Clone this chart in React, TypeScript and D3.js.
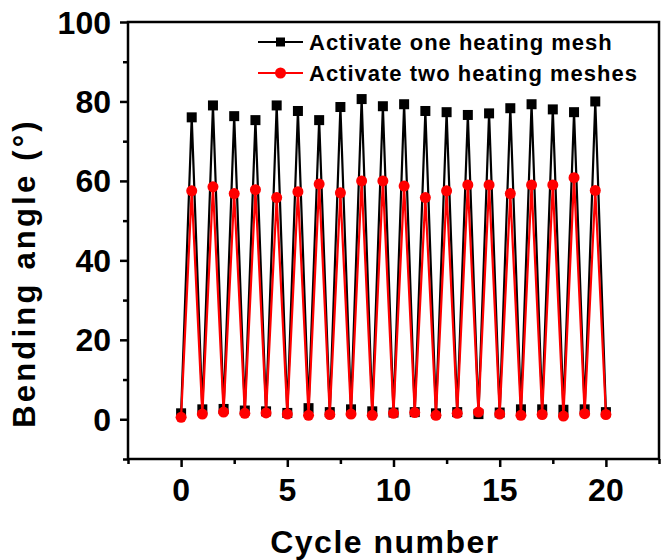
import React, { useEffect, useRef } from "react";
import * as d3 from "d3";

// x positions: valleys at whole cycles, peaks at half cycles
const cycleX = d3.range(0, 20.01, 0.5);

const oneMeshPeaks = [76, 79, 76.3, 75.3, 79, 77.6, 75.3, 78.6, 80.6, 78.8, 79.3, 77.6, 77.3, 76.6, 77, 78.3, 79.3, 78, 77.3, 80];
const oneMeshValleys = [1.5, 2.5, 2.6, 2.2, 2.0, 1.6, 2.8, 1.8, 2.5, 2.0, 1.7, 1.8, 1.5, 1.8, 1.3, 1.7, 2.5, 2.5, 2.4, 2.5, 1.8];

const twoMeshPeaks = [57.5, 58.5, 56.8, 57.8, 55.8, 57.3, 59.2, 57, 60, 60, 58.7, 55.8, 57.5, 59, 59, 56.8, 59, 59, 60.8, 57.6];
const twoMeshValleys = [0.5, 1.3, 1.8, 1.5, 1.6, 1.3, 1.0, 1.2, 1.3, 1.0, 1.5, 1.7, 1.0, 1.5, 1.8, 1.3, 1.0, 1.2, 0.8, 1.4, 1.2];

const xTicks = [0, 5, 10, 15, 20];
const yTicks = [0, 20, 40, 60, 80, 100];

function interleave(valleys: number[], peaks: number[]) {
  return cycleX.map((x, i) => ({
    x,
    y: i % 2 === 0 ? valleys[i / 2] : peaks[(i - 1) / 2],
  }));
}

export default function App() {
  const ref = useRef<SVGSVGElement>(null);

  useEffect(() => {
    const svg = d3.select(ref.current);
    svg.selectAll("*").remove();

    const left = 128, right = 659, top = 22, bottom = 459;
    const font = "'Liberation Sans', Arial, sans-serif";

    const x = d3.scaleLinear().domain([-2.5, 22.5]).range([left, right]);
    const y = d3.scaleLinear().domain([-10, 100]).range([bottom, top]);

    // frame
    svg.append("rect")
      .attr("x", left).attr("y", top)
      .attr("width", right - left).attr("height", bottom - top)
      .attr("fill", "none").attr("stroke", "#000").attr("stroke-width", 2.5);

    // x axis
    const xAxis = svg.append("g")
      .attr("transform", `translate(0,${bottom})`)
      .call(d3.axisBottom(x).tickValues(d3.range(-2.5, 22.6, 2.5)).tickSize(6).tickFormat(() => ""));
    xAxis.select(".domain").remove();
    xAxis.selectAll("line").attr("stroke-width", 2.5).attr("y2", (d: any) => (xTicks.includes(d) ? 8 : 5));

    svg.append("g").selectAll("text").data(xTicks).join("text")
      .attr("x", (d) => x(d)).attr("y", 501)
      .attr("text-anchor", "middle")
      .attr("font-family", font).attr("font-weight", "bold").attr("font-size", 32)
      .text((d) => d);

    // y axis
    const yAxis = svg.append("g")
      .attr("transform", `translate(${left},0)`)
      .call(d3.axisLeft(y).tickValues(d3.range(-10, 100.1, 10)).tickSize(6).tickFormat(() => ""));
    yAxis.select(".domain").remove();
    yAxis.selectAll("line").attr("stroke-width", 2.5).attr("x2", (d: any) => (yTicks.includes(d) ? -8 : -5));

    svg.append("g").selectAll("text").data(yTicks).join("text")
      .attr("x", 111).attr("y", (d) => y(d) + 11.5)
      .attr("text-anchor", "end")
      .attr("font-family", font).attr("font-weight", "bold").attr("font-size", 32)
      .text((d) => d);

    // axis titles
    svg.append("text")
      .attr("x", 385).attr("y", 553)
      .attr("text-anchor", "middle")
      .attr("font-family", font).attr("font-weight", "bold").attr("font-size", 32)
      .attr("letter-spacing", 1.5)
      .text("Cycle number");

    svg.append("text")
      .attr("transform", `translate(35,273) rotate(-90)`)
      .attr("text-anchor", "middle")
      .attr("font-family", font).attr("font-weight", "bold").attr("font-size", 31)
      .attr("letter-spacing", 3.2)
      .text("Bending angle (°)");

    const line = d3.line<{ x: number; y: number }>().x((d) => x(d.x)).y((d) => y(d.y));

    const series = [
      { name: "Activate one heating mesh", color: "#000", shape: "square", data: interleave(oneMeshValleys, oneMeshPeaks) },
      { name: "Activate two heating meshes", color: "#ff0000", shape: "circle", data: interleave(twoMeshValleys, twoMeshPeaks) },
    ];

    series.forEach((s) => {
      const g = svg.append("g");
      g.append("path").datum(s.data)
        .attr("d", line).attr("fill", "none")
        .attr("stroke", s.color).attr("stroke-width", 2.2);
      if (s.shape === "square") {
        g.selectAll("rect").data(s.data).join("rect")
          .attr("x", (d) => x(d.x) - 5).attr("y", (d) => y(d.y) - 5)
          .attr("width", 10).attr("height", 10).attr("fill", s.color);
      } else {
        g.selectAll("circle").data(s.data).join("circle")
          .attr("cx", (d) => x(d.x)).attr("cy", (d) => y(d.y))
          .attr("r", 5.5).attr("fill", s.color);
      }
    });

    // legend
    series.forEach((s, i) => {
      const ly = 42 + i * 31;
      const g = svg.append("g");
      g.append("line").attr("x1", 258).attr("x2", 303).attr("y1", ly).attr("y2", ly)
        .attr("stroke", s.color).attr("stroke-width", 2.2);
      if (s.shape === "square") {
        g.append("rect").attr("x", 276).attr("y", ly - 4.5).attr("width", 9).attr("height", 9).attr("fill", s.color);
      } else {
        g.append("circle").attr("cx", 280.5).attr("cy", ly).attr("r", 5.5).attr("fill", s.color);
      }
      g.append("text").attr("x", 309).attr("y", ly + 8)
        .attr("font-family", font).attr("font-weight", "bold").attr("font-size", 22)
        .attr("letter-spacing", 1)
        .text(s.name);
    });
  }, []);

  return (
    <svg
      ref={ref}
      width={662}
      height={560}
      style={{ position: "absolute", left: 0, top: 0, background: "#fff" }}
    />
  );
}
